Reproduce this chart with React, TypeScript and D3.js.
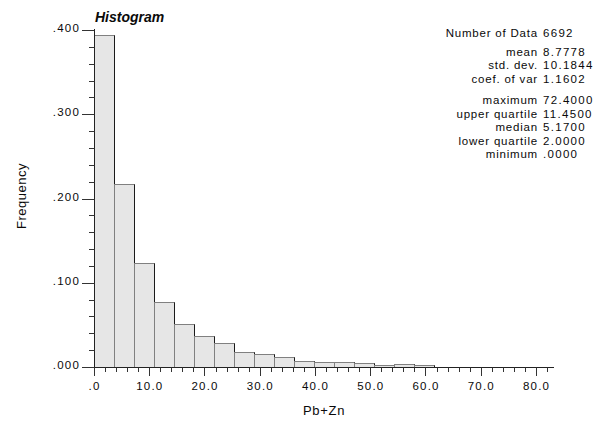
import React from "react";
import * as d3 from "d3";

const binWidth = 3.62;
const frequencies = [
  0.3935, 0.217, 0.124, 0.077, 0.051, 0.037, 0.028, 0.0175, 0.016, 0.0115,
  0.0068, 0.006, 0.006, 0.0044, 0.002, 0.0032, 0.002,
];
const xTickValues = [0, 10, 20, 30, 40, 50, 60, 70, 80];
const xTickLabels = [".0", "10.0", "20.0", "30.0", "40.0", "50.0", "60.0", "70.0", "80.0"];
const yTickValues = [0, 0.1, 0.2, 0.3, 0.4];
const yTickLabels = [".000", ".100", ".200", ".300", ".400"];
const statLabels1 = ["Number of Data"];
const statValues1 = ["6692"];
const statLabels2 = ["mean", "std. dev.", "coef. of var"];
const statValues2 = ["8.7778", "10.1844", "1.1602"];
const statLabels3 = ["maximum", "upper quartile", "median", "lower quartile", "minimum"];
const statValues3 = ["72.4000", "11.4500", "5.1700", "2.0000", ".0000"];

const W = 603;
const H = 421;
const FONT = "'Liberation Sans', Arial, Helvetica, sans-serif";

export default function App() {
  const x = d3.scaleLinear().domain([0, 83.26]).range([94, 554]);
  const y = d3.scaleLinear().domain([0, 0.4]).range([367, 30]);
  const xMinor = d3.range(0, 83, 2);
  const yMinor = d3.range(0, 0.401, 0.02);
  const textColor = "#0a0a0a";

  const statRow = (labels: string[], values: string[], y0: number, dy: number) =>
    labels.map((l, i) => (
      <g key={l}>
        <text x={538} y={y0 + i * dy} textAnchor="end" letterSpacing={0.8}>{l}</text>
        <text x={543} y={y0 + i * dy} letterSpacing={1.3}>{values[i]}</text>
      </g>
    ));

  return (
    <svg
      width={W}
      height={H}
      style={{ position: "fixed", left: 0, top: 0, background: "#fff" }}
      fontFamily={FONT}
    >
      <rect width={W} height={H} fill="#fff" />
      {/* bars */}
      {frequencies.map((f, i) => {
        const x0 = Math.round(x(i * binWidth)) + 0.5;
        const x1 = Math.round(x((i + 1) * binWidth)) + 0.5;
        const yt = Math.round(y(f)) + 0.5;
        const yb = Math.round(y(0)) + 0.5;
        return (
          <g key={i}>
            <rect x={x0} y={yt} width={x1 - x0} height={yb - yt} fill="#e6e6e6" stroke="#808080" strokeWidth={1} />
            <line x1={x1} x2={x1} y1={yt} y2={yb} stroke="#1a1a1a" />
          </g>
        );
      })}
      {/* y axis */}
      <line x1={94.5} x2={94.5} y1={Math.round(y(0.4)) - 1} y2={367.5} stroke="#222" />
      {yMinor.map((v, i) => {
        const yy = Math.round(y(v)) + 0.5;
        const major = i % 5 === 0;
        return <line key={i} x1={major ? 82 : 89} x2={94.5} y1={yy} y2={yy} stroke="#333" />;
      })}
      {yTickValues.map((v, i) => (
        <text key={i} x={80} y={y(v) + 2} textAnchor="end" fontSize={11.5} fill={textColor} letterSpacing={1.2}>
          {yTickLabels[i]}
        </text>
      ))}
      {/* x axis */}
      <line x1={94} x2={554} y1={367.5} y2={367.5} stroke="#222" />
      {xMinor.map((v, i) => {
        const xx = Math.round(x(v)) + 0.5;
        const major = i % 5 === 0;
        return <line key={i} x1={xx} x2={xx} y1={367.5} y2={major ? 376 : 372} stroke="#333" />;
      })}
      {xTickValues.map((v, i) => (
        <text key={i} x={x(v) + 0.6} y={390} textAnchor="middle" fontSize={11.5} fill={textColor} letterSpacing={1.2}>
          {xTickLabels[i]}
        </text>
      ))}
      {/* titles */}
      <text x={95} y={22} fontSize={14} fontWeight="bold" fontStyle="italic" fill={textColor}>
        Histogram
      </text>
      <text x={324} y={415} textAnchor="middle" fontSize={13} fill={textColor} letterSpacing={0.7}>
        Pb+Zn
      </text>
      <text
        transform="translate(26,196) rotate(-90)"
        textAnchor="middle"
        fontSize={13}
        fill={textColor}
        letterSpacing={0.5}
      >
        Frequency
      </text>
      {/* stats */}
      <g fontSize={11.5} fill={textColor}>
        {statRow(statLabels1, statValues1, 37, 13.5)}
        {statRow(statLabels2, statValues2, 55.5, 13.5)}
        {statRow(statLabels3, statValues3, 104, 13.5)}
      </g>
    </svg>
  );
}
